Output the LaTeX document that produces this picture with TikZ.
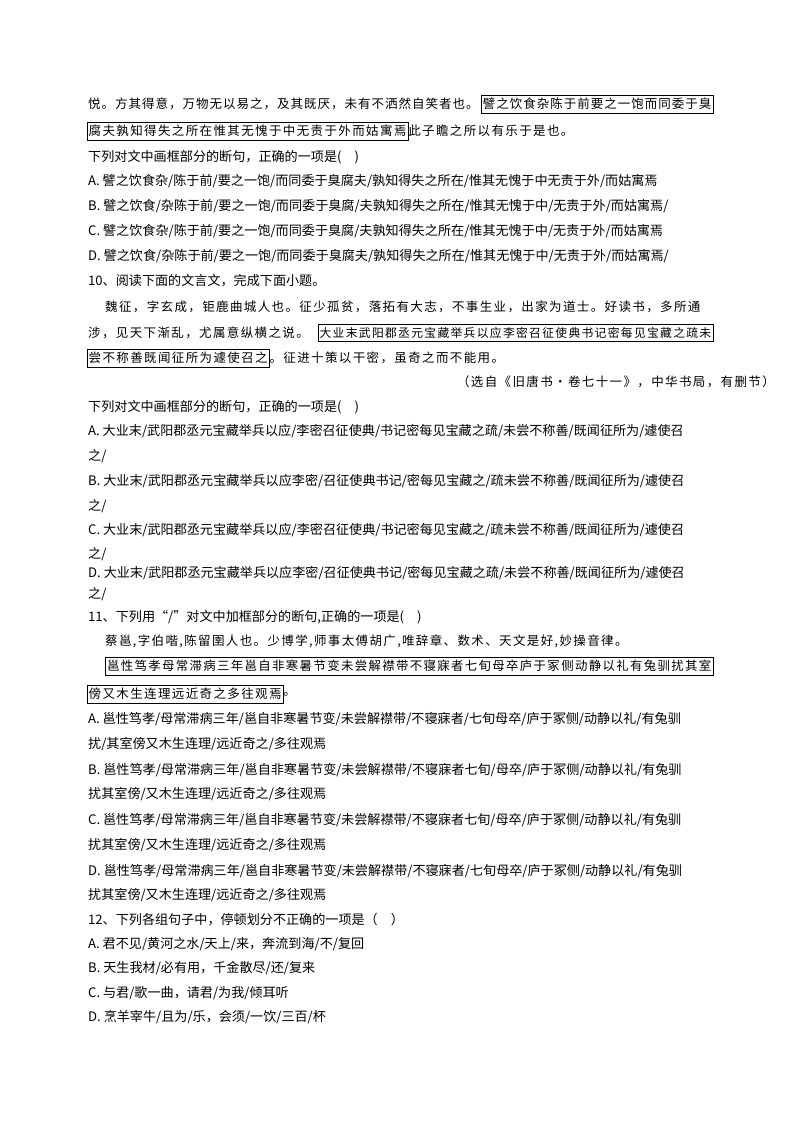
\documentclass[tikz,border=0pt]{standalone}
\usepackage{fontspec}
\setmainfont{Noto Sans CJK SC}[Scale=1]
\newfontfamily\kai{Noto Sans CJK SC}[LetterSpace=11]
\newfontfamily\kaib{Noto Sans CJK SC}[LetterSpace=8]
\begin{document}
\begin{tikzpicture}[x=1pt,y=-1pt,
  ln/.style={anchor=west,inner sep=0pt,font=\fontsize{13.1}{15}\selectfont},
  ps/.style={anchor=west,inner sep=0pt,font=\kai\fontsize{12.5}{15}\selectfont},
  bx/.style={anchor=west,draw,inner xsep=1.5pt,inner ysep=3pt,font=\kai\fontsize{12.5}{15}\selectfont}]
\useasboundingbox (0,0) rectangle (800,1132);
% block 9
\node[ps,font=\kaib\fontsize{12.5}{15}\selectfont] (p1) at (88,104) {悦。方其得意，万物无以易之，及其既厌，未有不洒然自笑者也。};
\node[bx,anchor=east,font=\kaib\fontsize{12.5}{15}\selectfont] (b1) at (713,104) {譬之饮食杂陈于前要之一饱而同委于臭};
\node[bx,anchor=west] (b2) at (87,131) {腐夫孰知得失之所在惟其无愧于中无责于外而姑寓焉};
\node[ps] (p2) at (b2.east) {此子瞻之所以有乐于是也。};
\node[ln] (q9) at (88,157) {下列对文中画框部分的断句，正确的一项是(\quad)};
\node[ln] (a9) at (88,181) {A. 譬之饮食杂/陈于前/要之一饱/而同委于臭腐夫/孰知得失之所在/惟其无愧于中无责于外/而姑寓焉};
\node[ln] (b9) at (88,206) {B. 譬之饮食/杂陈于前/要之一饱/而同委于臭腐/夫孰知得失之所在/惟其无愧于中/无责于外/而姑寓焉/};
\node[ln] (c9) at (88,231) {C. 譬之饮食杂/陈于前/要之一饱/而同委于臭腐/夫孰知得失之所在/惟其无愧于中/无责于外/而姑寓焉};
\node[ln] (d9) at (88,256) {D. 譬之饮食/杂陈于前/要之一饱/而同委于臭腐夫/孰知得失之所在/惟其无愧于中/无责于外/而姑寓焉/};
% block 10
\node[ln] (q10) at (88,281) {10、阅读下面的文言文，完成下面小题。};
\node[ps] (m1) at (105,307) {魏征，字玄成，钜鹿曲城人也。征少孤贫，落拓有大志，不事生业，出家为道士。好读书，多所通};
\node[ps] (m2) at (88,333) {涉，见天下渐乱，尤属意纵横之说。};
\node[bx,anchor=east,font=\kai\fontsize{11.8}{14}\selectfont] (b3) at (713,333) {大业末武阳郡丞元宝藏举兵以应李密召征使典书记密每见宝藏之疏未};
\node[bx,anchor=west] (b4) at (87,358) {尝不称善既闻征所为遽使召之};
\node[ps] (m3) at (b4.east) {。征进十策以干密，虽奇之而不能用。};
\node[ps,anchor=east] (src) at (775,382) {（选自《旧唐书·卷七十一》，中华书局，有删节）};
\node[ln] (q10b) at (88,407) {下列对文中画框部分的断句，正确的一项是(\quad)};
\node[ln] (a10) at (88,431) {A. 大业末/武阳郡丞元宝藏举兵以应/李密召征使典/书记密每见宝藏之疏/未尝不称善/既闻征所为/遽使召};
\node[ln] (a10b) at (88,456) {之/};
\node[ln] (b10) at (88,481) {B. 大业末/武阳郡丞元宝藏举兵以应李密/召征使典书记/密每见宝藏之/疏未尝不称善/既闻征所为/遽使召};
\node[ln] (b10b) at (88,506) {之/};
\node[ln] (c10) at (88,530) {C. 大业末/武阳郡丞元宝藏举兵以应/李密召征使典/书记密每见宝藏之/疏未尝不称善/既闻征所为/遽使召};
\node[ln] (c10b) at (88,554) {之/};
\node[ln] (d10) at (88,573) {D. 大业末/武阳郡丞元宝藏举兵以应李密/召征使典书记/密每见宝藏之疏/未尝不称善/既闻征所为/遽使召};
\node[ln] (d10b) at (88,594) {之/};
% block 11
\node[ln] (q11) at (88,617) {11、下列用“/”对文中加框部分的断句,正确的一项是(\quad)};
\node[ps] (n1) at (105,641) {蔡邕,字伯喈,陈留圉人也。少博学,师事太傅胡广,唯辞章、数术、天文是好,妙操音律。};
\node[bx,anchor=east,font=\kai\fontsize{12.4}{15}\selectfont] (b5) at (713,666) {邕性笃孝母常滞病三年邕自非寒暑节变未尝解襟带不寝寐者七旬母卒庐于冢侧动静以礼有兔驯扰其室};
\node[bx,anchor=west] (b6) at (87,694) {傍又木生连理远近奇之多往观焉};
\node[ps] (n2) at (b6.east) {。};
\node[ln] (a11) at (88,719) {A. 邕性笃孝/母常滞病三年/邕自非寒暑节变/未尝解襟带/不寝寐者/七旬母卒/庐于冢侧/动静以礼/有兔驯};
\node[ln] (a11b) at (88,744) {扰/其室傍又木生连理/远近奇之/多往观焉};
\node[ln] (b11) at (88,770) {B. 邕性笃孝/母常滞病三年/邕自非寒暑节变/未尝解襟带/不寝寐者七旬/母卒/庐于冢侧/动静以礼/有兔驯};
\node[ln] (b11b) at (88,794) {扰其室傍/又木生连理/远近奇之/多往观焉};
\node[ln] (c11) at (88,820) {C. 邕性笃孝/母常滞病三年/邕自非寒暑节变/未尝解襟带/不寝寐者七旬/母卒/庐于冢侧/动静以礼/有兔驯};
\node[ln] (c11b) at (88,845) {扰其室傍/又木生连理/远近奇之/多往观焉};
\node[ln] (d11) at (88,871) {D. 邕性笃孝/母常滞病三年/邕自非寒暑节变/未尝解襟带/不寝寐者/七旬母卒/庐于冢侧/动静以礼/有兔驯};
\node[ln] (d11b) at (88,895) {扰其室傍/又木生连理/远近奇之/多往观焉};
% block 12
\node[ln] (q12) at (88,920) {12、下列各组句子中，停顿划分不正确的一项是（\quad）};
\node[ln] (a12) at (88,944) {A. 君不见/黄河之水/天上/来，奔流到海/不/复回};
\node[ln] (b12) at (88,968) {B. 天生我材/必有用，千金散尽/还/复来};
\node[ln] (c12) at (88,993) {C. 与君/歌一曲，请君/为我/倾耳听};
\node[ln] (d12) at (88,1017) {D. 烹羊宰牛/且为/乐，会须/一饮/三百/杯};
\end{tikzpicture}
\end{document}
